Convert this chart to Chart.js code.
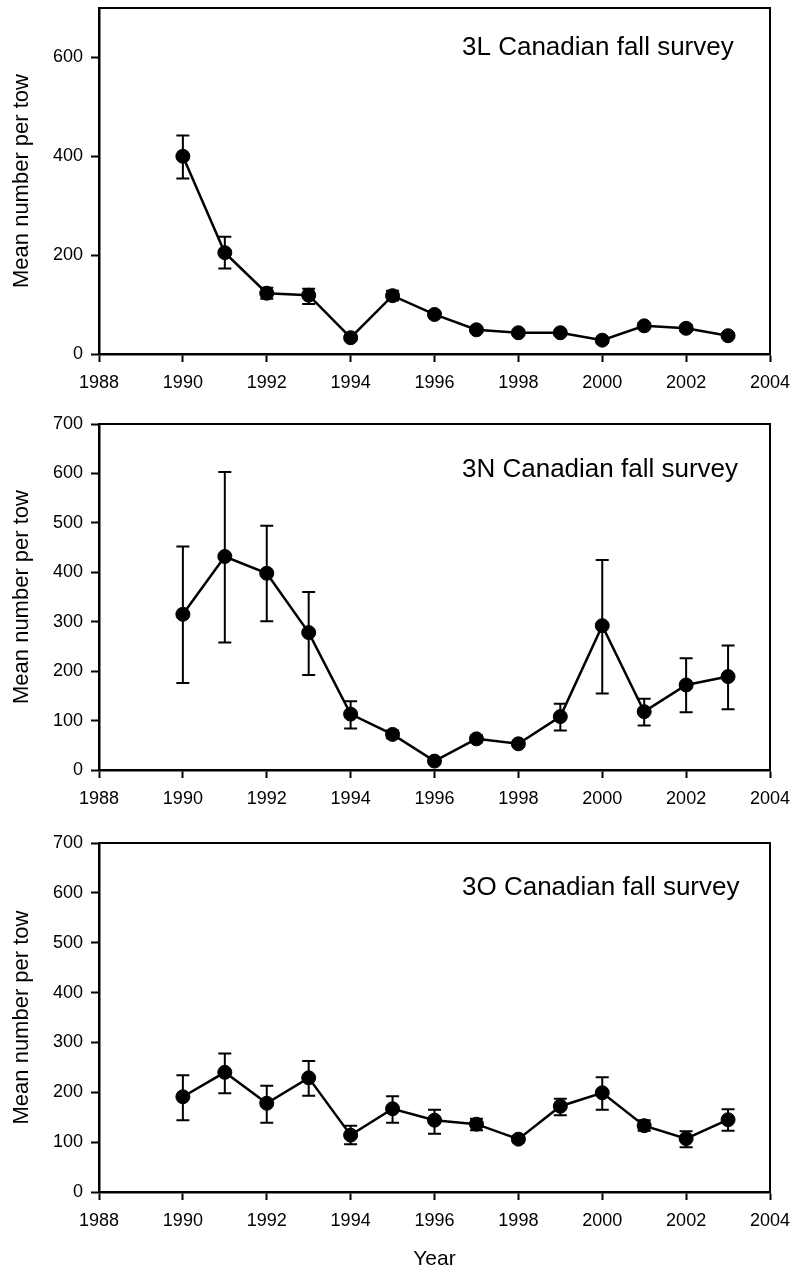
<!DOCTYPE html>
<html>
<head>
<meta charset="utf-8">
<script src="https://cdn.jsdelivr.net/npm/chart.js@4.4.1/dist/chart.umd.min.js"></script>
<style>
  html, body { margin: 0; padding: 0; background: #fff; }
  #wrap { position: relative; width: 794px; height: 1274px; }
  canvas { position: absolute; left: 0; }
</style>
</head>
<body>
<div id="wrap">
  <canvas id="c3L" width="794" height="400" style="top:0px"></canvas>
  <canvas id="c3N" width="794" height="420" style="top:400px"></canvas>
  <canvas id="c3O" width="794" height="454" style="top:820px"></canvas>
</div>
<script>
// ---- data ----
const years = [1990, 1991, 1992, 1993, 1994, 1995, 1996, 1997, 1998, 1999, 2000, 2001, 2002, 2003];

// 3L
const mean3L  = [400, 205, 123, 119, 33, 118, 80, 49, 43, 43, 28, 57, 52, 37];
const upper3L = [442, 237, 134, 132, 38, 128, 86, 54, 47, 47, 32, 62, 58, 41];
const lower3L = [355, 173, 112, 101, 28, 108, 74, 44, 39, 39, 24, 52, 46, 33];

// 3N
const mean3N  = [315, 432, 398, 278, 113, 72, 18, 63, 53, 108, 292, 118, 172, 189];
const upper3N = [452, 603, 494, 360, 139, 80, 24, 70, 58, 134, 425, 144, 226, 252];
const lower3N = [176, 258, 301, 192, 84, 64, 12, 56, 48, 80, 155, 90, 117, 123];

// 3O
const mean3O  = [191, 240, 178, 229, 114, 167, 144, 136, 106, 172, 199, 133, 107, 145];
const upper3O = [234, 278, 213, 263, 133, 192, 165, 147, 112, 187, 230, 144, 122, 166];
const lower3O = [144, 198, 139, 193, 96, 139, 117, 124, 100, 154, 165, 123, 90, 123];

const xTickStep = 2;
const FONT = 'Arial, "Liberation Sans", Helvetica, sans-serif';

// vertical error bars with caps, drawn under the markers
const errorBars = {
    id: 'errorBars',
    beforeDatasetsDraw(chart) {
        const ctx = chart.ctx;
        const xs = chart.scales.x, ys = chart.scales.y;
        chart.data.datasets.forEach(ds => {
            ctx.save();
            ctx.strokeStyle = '#000';
            ctx.lineWidth = 2;
            ds.data.forEach((p, i) => {
                const x = xs.getPixelForValue(p.x);
                const yHi = ys.getPixelForValue(ds.upper[i]);
                const yLo = ys.getPixelForValue(ds.lower[i]);
                ctx.beginPath();
                ctx.moveTo(x, yHi); ctx.lineTo(x, yLo);
                ctx.moveTo(x - 6.5, yHi); ctx.lineTo(x + 6.5, yHi);
                ctx.moveTo(x - 6.5, yLo); ctx.lineTo(x + 6.5, yLo);
                ctx.stroke();
            });
            ctx.restore();
        });
    }
};

// top + right border of the plot box
const frame = {
    id: 'frame',
    afterDraw(chart) {
        const {ctx, chartArea: a} = chart;
        ctx.save();
        ctx.strokeStyle = '#000';
        ctx.lineWidth = 2;
        ctx.beginPath();
        ctx.moveTo(a.left, a.top);
        ctx.lineTo(a.right, a.top);
        ctx.lineTo(a.right, a.bottom);
        ctx.stroke();
        ctx.restore();
    }
};

// "3L Canadian fall survey" etc.
const panelLabel = {
    id: 'panelLabel',
    afterDraw(chart, args, opts) {
        const {ctx, chartArea: a} = chart;
        ctx.save();
        ctx.fillStyle = '#000';
        ctx.font = '26px ' + FONT;
        ctx.textAlign = 'left';
        ctx.textBaseline = 'middle';
        ctx.fillText(opts.text, a.left + opts.dx, a.top + opts.dy);
        ctx.restore();
    }
};

// no automatic label overflow padding: the plot box is fixed by layout.padding
function noPad(s) {
    s.paddingLeft = 0; s.paddingRight = 0; s.paddingTop = 0; s.paddingBottom = 0;
}

function makePanel(id, label, mean, upper, lower, p) {
    const ctx = document.getElementById(id);
    const canvasH = ctx.height;
    return new Chart(ctx, {
        type: 'line',
        data: {
            datasets: [{
                data: years.map((yr, i) => ({x: yr, y: mean[i]})),
                upper: upper,
                lower: lower,
                borderColor: '#000',
                borderWidth: 2.5,
                pointBackgroundColor: '#000',
                pointBorderColor: '#000',
                pointRadius: 7,
                pointBorderWidth: 1,
                tension: 0,
                fill: false
            }]
        },
        options: {
            responsive: false,
            animation: false,
            devicePixelRatio: 1,
            layout: { autoPadding: false, padding: { left: 0, right: 24, top: p.top, bottom: 0 } },
            plugins: {
                legend: { display: false },
                tooltip: { enabled: false },
                panelLabel: { text: label, dx: 363, dy: p.labelDy }
            },
            scales: {
                x: {
                    type: 'linear',
                    min: 1988,
                    max: 2004,
                    offset: false,
                    border: { display: true, color: '#000', width: 2.5 },
                    grid: { drawOnChartArea: false, drawTicks: true, tickLength: 8, tickWidth: 2, tickColor: '#000' },
                    ticks: {
                        stepSize: xTickStep,
                        color: '#000',
                        padding: 10,
                        maxRotation: 0,
                        font: { family: FONT, size: 18 },
                        callback: v => String(v)
                    },
                    title: {
                        display: !!p.xTitle,
                        text: p.xTitle || '',
                        color: '#000',
                        font: { family: FONT, size: 21 },
                        padding: { top: 0, bottom: 2 }
                    },
                    afterFit: s => { s.height = canvasH - p.bottom; noPad(s); }
                },
                y: {
                    min: 0,
                    max: 700,
                    border: { display: true, color: '#000', width: 2.5 },
                    grid: { drawOnChartArea: false, drawTicks: true, tickLength: 8, tickWidth: 2, tickColor: '#000' },
                    ticks: {
                        stepSize: p.yStep,
                        includeBounds: false,
                        color: '#000',
                        padding: 8,
                        font: { family: FONT, size: 18 }
                    },
                    title: {
                        display: true,
                        text: 'Mean number per tow',
                        color: '#000',
                        font: { family: FONT, size: 22 },
                        padding: { top: 9, bottom: 0 }
                    },
                    afterFit: s => { s.width = 99; noPad(s); }
                }
            }
        },
        plugins: [errorBars, frame, panelLabel]
    });
}

makePanel('c3L', '3L Canadian fall survey', mean3L, upper3L, lower3L,
    { top: 8, bottom: 354, yStep: 200, labelDy: 40 });
makePanel('c3N', '3N Canadian fall survey', mean3N, upper3N, lower3N,
    { top: 24, bottom: 370, yStep: 100, labelDy: 46 });
makePanel('c3O', '3O Canadian fall survey', mean3O, upper3O, lower3O,
    { top: 23, bottom: 372, yStep: 100, labelDy: 45, xTitle: 'Year' });
</script>
</body>
</html>
